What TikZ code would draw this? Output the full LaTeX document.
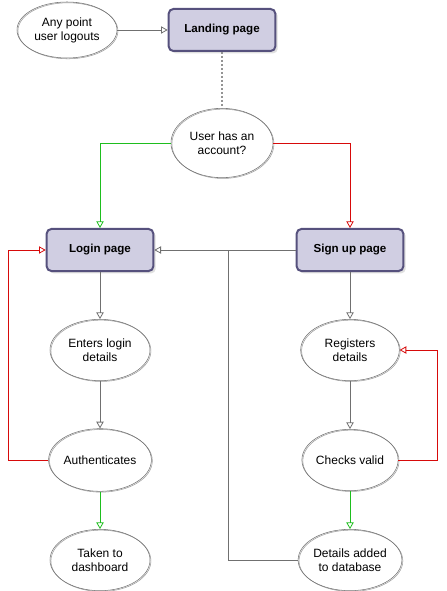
\documentclass[tikz,border=0pt]{standalone}
\usepackage{fontspec}
\setmainfont{Liberation Sans}
\usepackage{tikz}
\usetikzlibrary{positioning, arrows.meta, shapes, shadows}
\definecolor{lavanda}{RGB}{208, 206, 226}
\definecolor{morado}{RGB}{86, 81, 125}
\definecolor{gris}{RGB}{112, 112, 112}
\definecolor{verde}{RGB}{30, 190, 30}
\definecolor{rojo}{RGB}{215, 10, 10}
\tikzset{
    pagina/.style={draw=morado, fill=lavanda, line width=1.5pt, rounded corners=3.5pt, minimum width=80pt, minimum height=31.5pt, font=\fontsize{8.7pt}{10pt}\selectfont\bfseries, drop shadow={shadow xshift=1.8pt, shadow yshift=-1.8pt, opacity=0.25}},
    paso/.style={draw=gris, ellipse, align=center, inner sep=0pt, minimum width=75pt, minimum height=46pt, preaction={draw=gris!70, transform canvas={xshift=0.7pt, yshift=-0.6pt}}},
    flecha/.style={-{Triangle[open, length=5pt, width=5.5pt]}, gris, line width=0.6pt},
    bien/.style={flecha, verde},
    mal/.style={flecha, rojo},
    linea/.style={-, gris, line width=0.6pt},
}
\begin{document}
\begin{tikzpicture}[x=0.75pt, y=-0.75pt, font=\fontsize{9pt}{10.5pt}\selectfont]
    \useasboundingbox (0,0) rectangle (446,591);

    \node[paso, minimum width=75pt, minimum height=42pt] (logout) at (67,30) {Any point\\user logouts};
    \node[pagina] (landing) at (222,30) {Landing page};
    \node[paso, minimum width=76.5pt, minimum height=52pt] (cuenta) at (222,143) {User has an\\account?};

    \node[pagina] (login) at (100,250) {Login page};
    \node[pagina] (signup) at (350,250) {Sign up page};

    \node[paso] (entra) at (100,350) {Enters login\\details};
    \node[paso, minimum height=47pt] (auth) at (100,460) {Authenticates};
    \node[paso] (panel) at (100,560) {Taken to\\dashboard};

    \node[paso, minimum width=74pt] (registra) at (350,350) {Registers\\details};
    \node[paso, minimum width=68pt] (valida) at (350,460) {Checks valid};
    \node[paso, minimum width=76pt] (base) at (350,560) {Details added\\to database};

    \coordinate (izq) at (8,0);
    \coordinate (der) at (437,0);
    \coordinate (union) at (228,250);

    \draw[flecha] (logout) -- (landing);
    \draw[linea, gris!75, dash pattern=on 1.5pt off 1.5pt, line width=0.9pt] (landing) -- (cuenta);
    \draw[bien] (cuenta.west) -| (login.north);
    \draw[mal] (cuenta.east) -| (signup.north);
    \draw[flecha] (signup) -- (login);

    \draw[flecha] (login) -- (entra);
    \draw[flecha] (entra) -- (auth);
    \draw[bien] (auth) -- (panel);
    \draw[mal] (auth.west) -- (auth.west -| izq) |- (login.west);

    \draw[flecha] (signup) -- (registra);
    \draw[flecha] (registra) -- (valida);
    \draw[bien] (valida) -- (base);
    \draw[mal] (valida.east) -- (valida.east -| der) |- (registra.east);
    \draw[linea] (base.west) -| (union);
\end{tikzpicture}
\end{document}
